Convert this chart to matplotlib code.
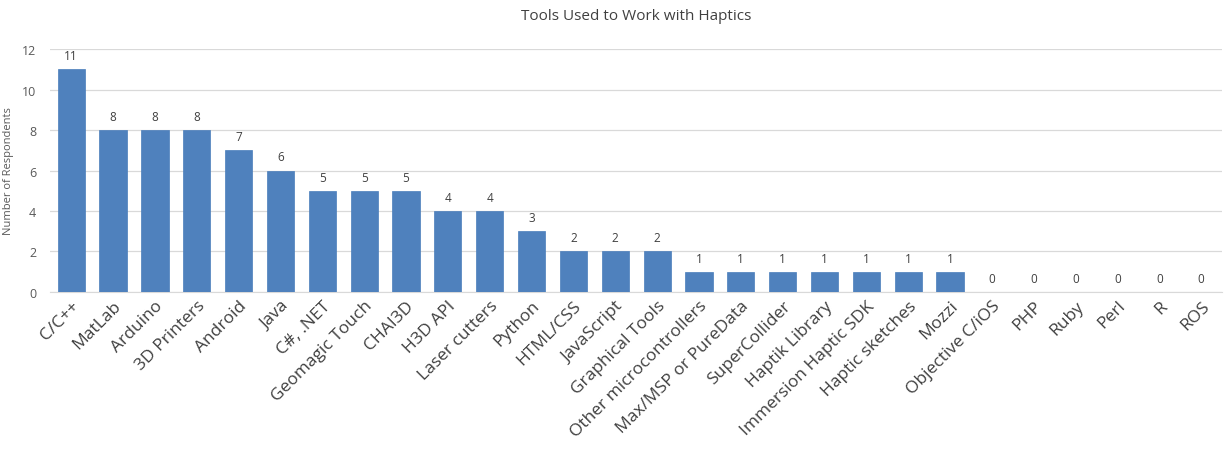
import matplotlib
matplotlib.use('Agg')
import matplotlib.pyplot as plt
import numpy as np

tools = ['C/C++', 'MatLab', 'Arduino', '3D Printers', 'Android', 'Java', 'C#, .NET',
         'Geomagic Touch', 'CHAI3D', 'H3D API', 'Laser cutters', 'Python', 'HTML/CSS',
         'JavaScript', 'Graphical Tools', 'Other microcontrollers', 'Max/MSP or PureData',
         'SuperCollider', 'Haptik Library', 'Immersion Haptic SDK', 'Haptic sketches',
         'Mozzi', 'Objective C/iOS', 'PHP', 'Ruby', 'Perl', 'R', 'ROS']
counts = [11, 8, 8, 8, 7, 6, 5, 5, 5, 4, 4, 3, 2, 2, 2, 1, 1, 1, 1, 1, 1, 1, 0, 0, 0, 0, 0, 0]

plt.rcParams['font.family'] = ['Open Sans', 'DejaVu Sans']

fig = plt.figure(figsize=(12.27, 4.52), dpi=100)
ax = fig.add_axes([0.041, 0.352, 0.955, 0.537])

x = np.arange(len(tools))
bars = ax.bar(x, counts, width=0.65, color='#4F81BD', edgecolor='#4A7EBB', linewidth=0.5, zorder=3)

for xi, c in zip(x, counts):
    ax.text(xi, c + 0.35, str(c), ha='center', va='bottom', fontsize=8.5, color='#404040')

ax.set_xlim(-0.5, len(tools) - 0.5)
ax.set_ylim(0, 12)
ax.set_yticks(range(0, 13, 2))
ax.grid(axis='y', color='#D9D9D9', linewidth=0.9, zorder=0)
for s in ['top', 'right', 'left']:
    ax.spines[s].set_visible(False)
ax.spines['bottom'].set_color('#D9D9D9')
ax.tick_params(axis='y', length=0, labelsize=9, labelcolor='#595959', pad=10)
ax.tick_params(axis='x', length=0, labelsize=12.5, labelcolor='#404040', pad=4)
ax.set_xticks(x)
ax.set_xticklabels(tools, rotation=45, ha='right', rotation_mode='anchor')
ax.set_ylabel('Number of Respondents', fontsize=8, color='#595959', labelpad=6)
ax.set_title('Tools Used to Work with Haptics', fontsize=11, color='#404040', pad=22)

fig.savefig('out.png', dpi=100)
